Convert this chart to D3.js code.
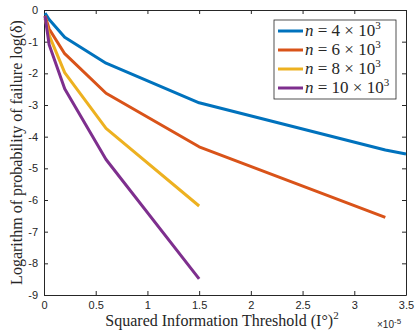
<!DOCTYPE html>
<html>
<head>
<meta charset="utf-8">
<script src="https://cdn.jsdelivr.net/npm/d3@7"></script>
<style>
  body { margin: 0; background: #fff; }
  .tick text { font-family: "Liberation Sans", Arial, sans-serif; font-size: 11px; fill: #262626; }
  .serif { font-family: "Liberation Serif", "DejaVu Serif", serif; fill: #262626; }
</style>
</head>
<body>
<svg id="chart" width="416" height="331"></svg>
<script>
// threshold values (x, in units of 1e-5)
var xs = [0.01, 0.05, 0.2, 0.6, 1.5, 3.3, 3.5];

// log failure probability per n
var n4 = [-0.1, -0.3, -0.86, -1.68, -2.93, -4.42, -4.55];
var n6 = [-0.18, -0.6, -1.38, -2.63, -4.32, -6.55];
var n8 = [-0.27, -0.8, -1.98, -3.74, -6.19];
var n10 = [-0.2, -1.1, -2.49, -4.72, -8.49];

var names = ["4", "6", "8", "10"];
var xTicks = [0, 0.5, 1, 1.5, 2, 2.5, 3, 3.5];
var yTicks = [0, -1, -2, -3, -4, -5, -6, -7, -8, -9];

(function () {
  var colors = ["#0072BD", "#D95319", "#EDB120", "#7E2F8E"];
  var series = [n4, n6, n8, n10];

  var pl = 44, pr = 406, pt = 10, pb = 295;

  var svg = d3.select("#chart");

  var x = d3.scaleLinear().domain([0, 3.5]).range([pl, pr]);
  var y = d3.scaleLinear().domain([-9, 0]).range([pb, pt]);

  // axes, ticks pointing inward like matlab
  svg.append("g")
    .attr("transform", "translate(0," + pb + ")")
    .call(d3.axisBottom(x).tickValues(xTicks).tickFormat(d3.format("")).tickSizeInner(-4).tickSizeOuter(0).tickPadding(6));
  svg.append("g")
    .attr("transform", "translate(0," + pt + ")")
    .call(d3.axisTop(x).tickValues(xTicks).tickFormat("").tickSizeInner(-4).tickSizeOuter(0));
  svg.append("g")
    .attr("transform", "translate(" + pl + ",0)")
    .call(d3.axisLeft(y).tickValues(yTicks).tickFormat(d3.format("")).tickSizeInner(-4).tickSizeOuter(0).tickPadding(6));
  svg.append("g")
    .attr("transform", "translate(" + pr + ",0)")
    .call(d3.axisRight(y).tickValues(yTicks).tickFormat("").tickSizeInner(-4).tickSizeOuter(0));

  svg.selectAll(".domain").attr("stroke", "#262626");
  svg.selectAll(".tick line").attr("stroke", "#262626");
  // minus signs as plain hyphens
  svg.selectAll(".tick text").text(function () { return d3.select(this).text().replace("\u2212", "-"); });

  var line = d3.line()
    .x(function (d, i) { return x(xs[i]); })
    .y(function (d) { return y(d); });

  series.forEach(function (s, k) {
    svg.append("path")
      .datum(s)
      .attr("d", line)
      .attr("fill", "none")
      .attr("stroke", colors[k])
      .attr("stroke-width", 3)
      .attr("stroke-linejoin", "round");
  });

  // legend
  var lg = svg.append("g");
  lg.append("rect")
    .attr("x", 274).attr("y", 20).attr("width", 122).attr("height", 79)
    .attr("fill", "#fff").attr("stroke", "#262626").attr("stroke-width", 0.8);

  names.forEach(function (nm, k) {
    var yy = 31 + k * 19;
    lg.append("line")
      .attr("x1", 278).attr("x2", 303).attr("y1", yy).attr("y2", yy)
      .attr("stroke", colors[k]).attr("stroke-width", 3);
    var t = lg.append("text").attr("class", "serif")
      .attr("x", 305).attr("y", yy + 5).attr("font-size", 17);
    t.append("tspan").attr("font-style", "italic").text("n");
    t.append("tspan").text(" = " + nm + " \u00d7 10");
    t.append("tspan").attr("font-size", 11).attr("dy", -7).text("3");
  });

  // axis labels
  svg.append("text").attr("class", "serif")
    .attr("transform", "translate(22," + ((pt + pb) / 2) + ") rotate(-90)")
    .attr("text-anchor", "middle").attr("font-size", 16)
    .text("Logarithm of probability of failure log(\u03b4)");

  var xl = svg.append("text").attr("class", "serif")
    .attr("x", 222).attr("y", 326)
    .attr("text-anchor", "middle").attr("font-size", 16);
  xl.append("tspan").text("Squared Information Threshold (I\u00b0)");
  xl.append("tspan").attr("font-size", 11).attr("dy", -7).text("2");

  var ex = svg.append("text")
    .attr("x", 377).attr("y", 328)
    .style("font-family", "Liberation Sans, Arial, sans-serif")
    .attr("font-size", 10).attr("fill", "#262626");
  ex.append("tspan").text("\u00d710");
  ex.append("tspan").attr("font-size", 8).attr("dy", -4).text("-5");
})();
</script>
</body>
</html>
